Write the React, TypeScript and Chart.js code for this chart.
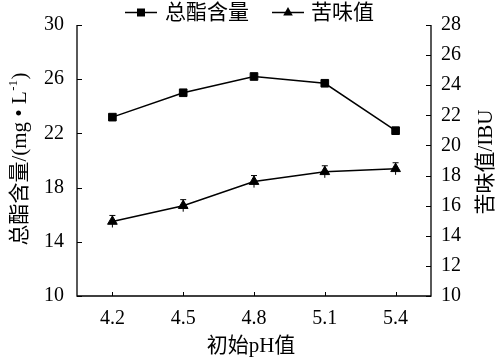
import React, { useEffect, useRef } from "react";
import { Chart, registerables } from "chart.js";

Chart.register(...registerables);

const phLabels = ["4.2", "4.5", "4.8", "5.1", "5.4"];
const esterValues = [23.2, 25.0, 26.2, 25.7, 22.2];
const bitterValues = [14.95, 16.0, 17.6, 18.25, 18.45];
const bitterErrors = [0.4, 0.4, 0.4, 0.4, 0.4];
const esterName = "总酯含量";
const bitterName = "苦味值";
const xTitle = "初始pH值";
const leftTitleMain = "总酯含量/(mg \u2022 L";
const leftTitleSup = "-1";
const leftTitleEnd = ")";
const rightTitle = "苦味值/IBU";

const FONT = "'Liberation Serif', 'Noto Sans CJK SC', serif";
const TITLE_SIZE = 21;

const drawMarker = (ctx: CanvasRenderingContext2D, style: string, x: number, y: number) => {
  ctx.beginPath();
  if (style === "rect") {
    ctx.rect(x - 4, y - 4, 8, 8);
  } else {
    ctx.moveTo(x, y - 5.5);
    ctx.lineTo(x + 4.8, y + 3);
    ctx.lineTo(x - 4.8, y + 3);
    ctx.closePath();
  }
  ctx.fill();
};

const decorPlugin = {
  id: "decor",
  afterDatasetsDraw(chart: any) {
    const ctx: CanvasRenderingContext2D = chart.ctx;
    const { left, right, top, bottom } = chart.chartArea;
    const xs = chart.scales.x;
    const yl = chart.scales.y;
    const yr = chart.scales.y2;
    ctx.save();
    ctx.strokeStyle = "#000";
    ctx.fillStyle = "#000";
    // error bars
    ctx.lineWidth = 1;
    bitterValues.forEach((v, i) => {
      const x = xs.getPixelForValue(i);
      const yt = yr.getPixelForValue(v + bitterErrors[i]);
      const yb = yr.getPixelForValue(v - bitterErrors[i]);
      ctx.beginPath();
      ctx.moveTo(x, yb);
      ctx.lineTo(x, yt);
      ctx.moveTo(x - 3, yt);
      ctx.lineTo(x + 3, yt);
      ctx.stroke();
    });
    // spines
    ctx.lineWidth = 1.3;
    ctx.beginPath();
    ctx.moveTo(left, top);
    ctx.lineTo(left, bottom);
    ctx.lineTo(right, bottom);
    ctx.lineTo(right, top);
    ctx.stroke();
    // inward ticks
    ctx.lineWidth = 1;
    ctx.beginPath();
    yl.ticks.forEach((t: any) => {
      const y = Math.round(yl.getPixelForValue(t.value)) + 0.5;
      ctx.moveTo(left, y);
      ctx.lineTo(left + 5, y);
    });
    yr.ticks.forEach((t: any) => {
      const y = Math.round(yr.getPixelForValue(t.value)) + 0.5;
      ctx.moveTo(right, y);
      ctx.lineTo(right - 5, y);
    });
    phLabels.forEach((_, i) => {
      const x = Math.round(xs.getPixelForValue(i)) + 0.5;
      ctx.moveTo(x, bottom);
      ctx.lineTo(x, bottom - 4);
    });
    ctx.stroke();

    // legend
    const legendItems = [
      { name: esterName, style: "rect", x0: 125, x1: 157, tx: 165 },
      { name: bitterName, style: "triangle", x0: 272, x1: 304, tx: 311 },
    ];
    const ly = 12.5;
    legendItems.forEach((it) => {
      ctx.lineWidth = 1.5;
      ctx.beginPath();
      ctx.moveTo(it.x0, ly);
      ctx.lineTo(it.x1, ly);
      ctx.stroke();
      drawMarker(ctx, it.style, (it.x0 + it.x1) / 2, ly);
      ctx.font = `${TITLE_SIZE}px ${FONT}`;
      ctx.textAlign = "left";
      ctx.textBaseline = "middle";
      ctx.fillText(it.name, it.tx, ly + 1);
    });

    // x title
    ctx.font = `${TITLE_SIZE}px ${FONT}`;
    ctx.textAlign = "center";
    ctx.textBaseline = "middle";
    ctx.fillText(xTitle, 251, 346);

    // left title (rotated, reading bottom-to-top)
    ctx.save();
    ctx.translate(20, 159);
    ctx.rotate(-Math.PI / 2);
    ctx.textBaseline = "middle";
    ctx.textAlign = "left";
    const mainFont = `${TITLE_SIZE}px ${FONT}`;
    const supFont = `${Math.round(TITLE_SIZE * 0.6)}px ${FONT}`;
    ctx.font = mainFont;
    const w1 = ctx.measureText(leftTitleMain).width;
    const w3 = ctx.measureText(leftTitleEnd).width;
    ctx.font = supFont;
    const w2 = ctx.measureText(leftTitleSup).width;
    const total = w1 + w2 + w3 + 1;
    let cx = -total / 2;
    ctx.font = mainFont;
    ctx.fillText(leftTitleMain, cx, 0);
    cx += w1;
    ctx.font = supFont;
    ctx.fillText(leftTitleSup, cx + 0.5, -6);
    cx += w2 + 1;
    ctx.font = mainFont;
    ctx.fillText(leftTitleEnd, cx, 0);
    ctx.restore();

    // right title (rotated, reading bottom-to-top)
    ctx.save();
    ctx.translate(486, 162);
    ctx.rotate(-Math.PI / 2);
    ctx.font = mainFont;
    ctx.textAlign = "center";
    ctx.textBaseline = "middle";
    ctx.fillText(rightTitle, 0, 0);
    ctx.restore();

    ctx.restore();
  },
};

export default function App() {
  const ref = useRef<HTMLCanvasElement | null>(null);
  useEffect(() => {
    document.body.style.margin = "0";
    const canvas = ref.current;
    if (!canvas) return;
    const chart = new Chart(canvas, {
      type: "line",
      data: {
        labels: phLabels,
        datasets: [
          {
            label: esterName,
            data: esterValues,
            yAxisID: "y",
            borderColor: "#000",
            backgroundColor: "#000",
            borderWidth: 1.5,
            pointStyle: "rect",
            pointRadius: 5.4,
            pointBorderWidth: 1,
            tension: 0,
          },
          {
            label: bitterName,
            data: bitterValues,
            yAxisID: "y2",
            borderColor: "#000",
            backgroundColor: "#000",
            borderWidth: 1.5,
            pointStyle: "triangle",
            pointRadius: 5.6,
            pointBorderWidth: 1,
            tension: 0,
          },
        ],
      },
      options: {
        responsive: false,
        animation: false,
        devicePixelRatio: 1,
        layout: { padding: { top: 21, left: 0, right: 0, bottom: 0 } },
        plugins: {
          legend: { display: false },
          tooltip: { enabled: false },
          title: { display: false },
        },
        scales: {
          x: {
            type: "category",
            offset: true,
            grid: { display: false, drawTicks: false },
            border: { display: false },
            ticks: { color: "#000", font: { family: FONT, size: 20 }, padding: 11, maxRotation: 0 },
            afterFit: (s: any) => {
              s.height = 65;
            },
          },
          y: {
            position: "left",
            min: 10,
            max: 30,
            grid: { display: false, drawTicks: false },
            border: { display: false },
            ticks: { stepSize: 4, color: "#000", font: { family: FONT, size: 20 }, padding: 13 },
            afterFit: (s: any) => {
              s.width = 77;
            },
          },
          y2: {
            position: "right",
            min: 10,
            max: 28,
            grid: { display: false, drawTicks: false },
            border: { display: false },
            ticks: { stepSize: 2, color: "#000", font: { family: FONT, size: 20 }, padding: 10 },
            afterFit: (s: any) => {
              s.width = 71;
            },
          },
        },
      },
      plugins: [decorPlugin],
    });
    return () => chart.destroy();
  }, []);
  return (
    <div style={{ position: "absolute", left: 0, top: 0, width: 502, height: 361, background: "#fff" }}>
      <canvas ref={ref} width={502} height={361} style={{ width: 502, height: 361, display: "block" }} />
    </div>
  );
}
